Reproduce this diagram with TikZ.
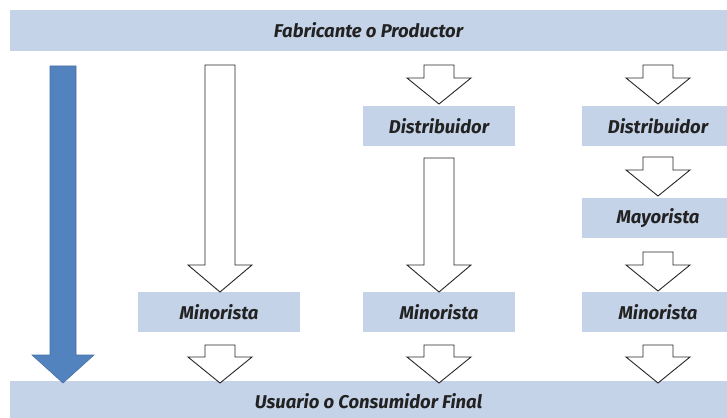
\documentclass[tikz,border=0pt]{standalone}
\usepackage{fontspec}
\setmainfont{Fira Sans}
\definecolor{boxblue}{HTML}{C5D3E8}
\definecolor{bigblue}{HTML}{5283BE}
\definecolor{bigedge}{HTML}{4670A3}
\definecolor{txt}{HTML}{222222}
\tikzset{
  lbl/.style={font=\bfseries\itshape\fontsize{18.5}{20}\selectfont, text=txt},
  bar/.style={lbl, fill=boxblue, draw=none, inner sep=0pt},
  stagebox/.style={lbl, fill=boxblue, draw=none, inner sep=0pt, minimum width=152pt, minimum height=40pt},
  blk/.style={draw=black!85, fill=white, line width=0.9pt, line join=miter},
  bigblk/.style={draw=bigedge, fill=bigblue, line width=0.6pt}
}
% #1 style, #2 center x, #3 top y, #4 head base y, #5 tip y, #6 shaft half width, #7 head half width
\newcommand{\blkarrow}[7]{%
  \filldraw[#1] ({#2-#6},#3) -- ({#2+#6},#3) -- ({#2+#6},#4) -- ({#2+#7},#4)
    -- (#2,#5) -- ({#2-#7},#4) -- ({#2-#6},#4) -- cycle;}
\begin{document}
\begin{tikzpicture}[x=1pt,y=-1pt]
\useasboundingbox (0,0) rectangle (727,417);
\clip (0,0) rectangle (727,417);
\fill[white] (0,0) rectangle (727,417);

% bars
\node[bar, minimum width=717pt, minimum height=41pt] (prod) at (368.5,30.5) {Fabricante o Productor};
\node[bar, minimum width=717pt, minimum height=40pt] (cons) at (368.5,401) {Usuario o Consumidor Final};

% boxes
\node[stagebox, minimum width=162pt] (min1) at (219,312) {Minorista};
\node[stagebox] (dis2) at (439,126) {Distribuidor};
\node[stagebox] (min2) at (439,312) {Minorista};
\node[stagebox] (dis3) at (658,126) {Distribuidor};
\node[stagebox] (may3) at (658,218) {Mayorista};
\node[stagebox] (min3) at (658,312) {Minorista};

% big blue arrow
\blkarrow{bigblk}{63}{66}{355}{383}{13}{31}

% column 1
\blkarrow{blk}{220}{65}{265}{292}{15}{32}
\blkarrow{blk}{220}{345}{357}{383}{15}{32}

% column 2
\blkarrow{blk}{439}{65}{78}{104}{15}{32}
\blkarrow{blk}{439}{158}{265}{292}{15}{32}
\blkarrow{blk}{439}{345}{357}{383}{15}{32}

% column 3
\blkarrow{blk}{658}{65}{78}{104}{15}{32}
\blkarrow{blk}{658}{157}{170}{196}{15}{32}
\blkarrow{blk}{658}{252}{265}{291}{15}{32}
\blkarrow{blk}{658}{345}{357}{383}{15}{32}
\end{tikzpicture}
\end{document}
